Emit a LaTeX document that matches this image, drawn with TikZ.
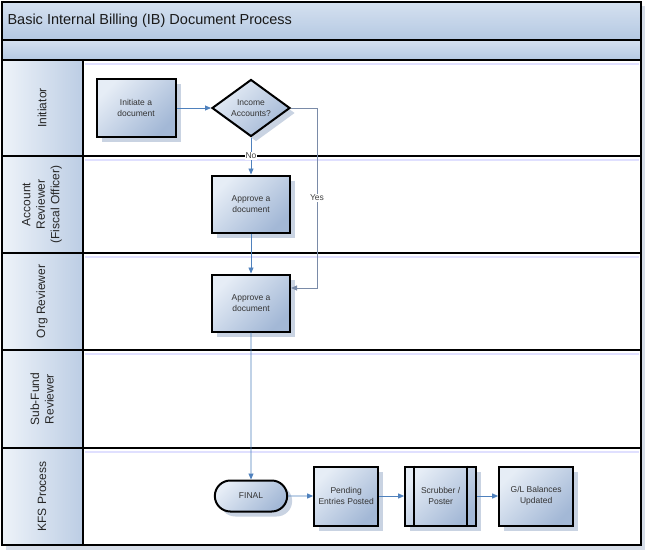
\documentclass[tikz,border=0pt]{standalone}
\usepackage{fontspec}
\setmainfont{Liberation Sans}
\usetikzlibrary{arrows.meta, positioning, shapes.geometric, shapes.misc, shadows}
\definecolor{flowblue}{HTML}{4F81BD}
\definecolor{yesgray}{HTML}{7A8BA8}
\definecolor{boxlight}{HTML}{E6EDF6}
\definecolor{boxdark}{HTML}{A3B8D6}
\definecolor{headlight}{HTML}{EEF3F9}
\definecolor{headdark}{HTML}{BCCDE4}
\definecolor{bandtop}{HTML}{D5E1F0}
\definecolor{bandbot}{HTML}{B4C8E2}
\definecolor{shadowgray}{HTML}{D6DDE8}
\definecolor{boxshadow}{HTML}{C9D3E2}
\tikzset{
  lanerule/.style={draw=black,line width=2pt},
  lanetext/.style={rotate=90,align=center,text=black!85,
    font=\fontsize{12}{14.5}\selectfont},
  proc/.style={rectangle,draw=black,line width=2pt,
    top color=boxlight,bottom color=boxdark,shading angle=45,
    align=center,text=black!80,font=\fontsize{8.5}{10.5}\selectfont,
    inner sep=1pt,minimum height=57pt,
    drop shadow={shadow xshift=5pt,shadow yshift=-5pt,fill=boxshadow,opacity=1}},
  decide/.style={diamond,aspect=1.35,draw=black,line width=2pt,
    top color=boxlight,bottom color=boxdark,shading angle=45,
    align=center,text=black!80,font=\fontsize{8.5}{10.5}\selectfont,
    inner sep=0pt,minimum width=78pt,minimum height=57pt,
    drop shadow={shadow xshift=5pt,shadow yshift=-5pt,fill=boxshadow,opacity=1}},
  term/.style={rounded rectangle,draw=black,line width=2pt,
    top color=boxlight,bottom color=boxdark,shading angle=45,
    text=black!80,font=\fontsize{8.5}{10.5}\selectfont,
    minimum width=79pt,minimum height=31pt,
    drop shadow={shadow xshift=5pt,shadow yshift=-5pt,fill=boxshadow,opacity=1}},
  flow/.style={-{Triangle[length=6pt,width=5pt]},draw=flowblue,line width=0.9pt},
  lbl/.style={fill=white,inner sep=1pt,text=black!75,font=\fontsize{8.5}{10}\selectfont}
}
\begin{document}
\begin{tikzpicture}[x=1pt,y=-1pt,node distance=25pt]
\useasboundingbox[fill=white] (0,0) rectangle (648,551);
% page shadow
\fill[shadowgray] (6,545) rectangle (645,550);
\fill[shadowgray] (641,6) rectangle (645,550);
% title band and empty band
\shade[top color=bandtop,bottom color=bandbot] (2,2) rectangle (641,40);
\shade[top color=bandtop,bottom color=bandbot] (2,40) rectangle (641,60);
\draw[lanerule] (2,2) rectangle (641,40);
\draw[lanerule] (2,40) rectangle (641,60);
\node[anchor=west,text=black!90,font=\fontsize{14.5}{17}\selectfont] (title)
  at (4,21) {Basic Internal Billing (IB) Document Process};
% swim lanes
\foreach \ltop/\lbot/\ltxt in {60/156/Initiator,
    156/253/{Account\\Reviewer\\(Fiscal Officer)},
    253/350/Org Reviewer,
    350/448/{Sub-Fund\\Reviewer},
    448/545/KFS Process}{
  \shade[left color=headlight,right color=headdark] (2,\ltop) rectangle (83,\lbot);
  \draw[blue!12,line width=2pt] (85,\ltop+4) -- (639,\ltop+4);
  \draw[lanerule] (2,\ltop) rectangle (641,\lbot);
  \draw[lanerule] (83,\ltop) -- (83,\lbot);
  \node[lanetext] at (42,{(\ltop+\lbot)/2}) {\ltxt};
}
% process
\node[proc,minimum width=79pt] (init) at (136,108) {Initiate a\\document};
\node[decide] (income) at (251,108) {Income\\Accounts?};
\node[proc,minimum width=78pt] (acctok) at (251,204) {Approve a\\document};
\node[proc,minimum width=78pt] (orgok) at (251,303) {Approve a\\document};
\node[term] (final) at (251,496) {FINAL};
\node[proc,minimum width=64pt,minimum height=59pt,right=of final] (pending) {Pending\\Entries Posted};
\node[proc,minimum width=71pt,minimum height=59pt,right=of pending] (scrub) {Scrubber /\\Poster};
\node[proc,minimum width=74pt,minimum height=59pt,right=21pt of scrub] (glbal) {G/L Balances\\Updated};
\draw[line width=2pt] ([xshift=10pt]scrub.north west) -- ([xshift=10pt]scrub.south west);
\draw[line width=2pt] ([xshift=-10pt]scrub.north east) -- ([xshift=-10pt]scrub.south east);
\coordinate (yesbend) at (317,108);
\draw[flow] (init) -- (income);
\draw[flow] (income) -- node[lbl] {No} (acctok);
\draw[flow,draw=yesgray] (income.east) -- (yesbend) |- node[lbl,pos=0.25] {Yes} ([yshift=15pt]orgok.east);
\draw[flow] (acctok) -- (orgok);
\draw[flow] (orgok) -- (final);
\draw[flow] (final) -- (pending);
\draw[flow] (pending) -- (scrub);
\draw[flow] (scrub) -- (glbal);
\end{tikzpicture}
\end{document}
